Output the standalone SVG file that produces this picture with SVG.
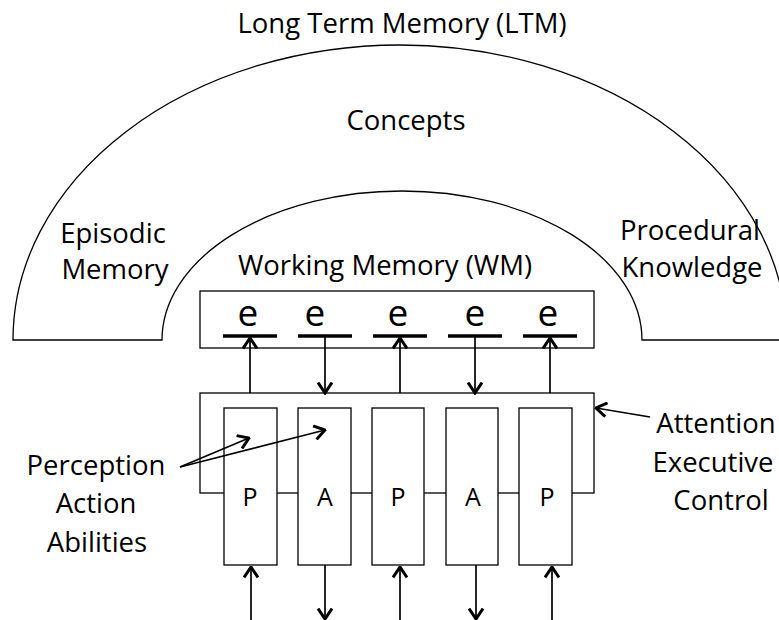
<svg xmlns="http://www.w3.org/2000/svg" width="779" height="620" viewBox="0 0 779 620">
<style>
text{font-family:"Open Sans","Liberation Sans",sans-serif;fill:#000}
.lbl{font-size:27.5px;text-anchor:middle}
.e{font-size:37px;text-anchor:middle}
.pa{font-size:25px;text-anchor:middle}
.shape{fill:#fff;stroke:#000;stroke-width:1.3}
.bar{stroke:#000;stroke-width:3.5}
.con{stroke:#000;stroke-width:1.7;fill:none}
</style>
<defs>
<marker id="ah" viewBox="0 0 13 16" refX="11.5" refY="8" markerWidth="13" markerHeight="16" markerUnits="userSpaceOnUse" orient="auto">
<path d="M1,1 L11.5,8 L1,15" fill="none" stroke="#000" stroke-width="3"/>
</marker>
</defs>
<rect width="779" height="620" fill="#fff"/>
<g id="ltm">
<path class="shape" d="M13,340 A387,295 0 0 1 787,340 L642,340 A240,149 0 0 0 162,340 Z"/>
<text class="lbl" x="402" y="33">Long Term Memory (LTM)</text>
<text class="lbl" x="406" y="130">Concepts</text>
</g>
<g id="episodic">
<text class="lbl" x="113" y="243">Episodic</text>
<text class="lbl" x="115" y="279">Memory</text>
</g>
<g id="procedural">
<text class="lbl" x="690" y="240">Procedural</text>
<text class="lbl" x="692" y="277">Knowledge</text>
</g>
<g id="wm">
<text class="lbl" x="385" y="275">Working Memory (WM)</text>
<rect class="shape" x="200" y="291" width="394" height="57"/>
</g>
<g id="elements">
<text class="e" x="248" y="326">e</text>
<text class="e" x="315" y="326">e</text>
<text class="e" x="398" y="326">e</text>
<text class="e" x="475" y="326">e</text>
<text class="e" x="548" y="326">e</text>
<line class="bar" x1="223" y1="336" x2="277" y2="336"/>
<line class="bar" x1="298" y1="336" x2="352" y2="336"/>
<line class="bar" x1="373" y1="336" x2="427" y2="336"/>
<line class="bar" x1="448" y1="336" x2="502" y2="336"/>
<line class="bar" x1="523" y1="336" x2="577" y2="336"/>
</g>
<g id="attention-box">
<rect x="200" y="393" width="394" height="100" fill="none" stroke="#000" stroke-width="1.3"/>
</g>
<g id="columns">
<rect class="shape" x="224" y="408" width="53" height="157"/>
<rect class="shape" x="298" y="408" width="53" height="157"/>
<rect class="shape" x="372" y="408" width="52" height="157"/>
<rect class="shape" x="446" y="408" width="52" height="157"/>
<rect class="shape" x="519" y="408" width="53" height="157"/>
<text class="pa" x="250" y="506">P</text>
<text class="pa" x="325" y="506">A</text>
<text class="pa" x="398" y="506">P</text>
<text class="pa" x="473" y="506">A</text>
<text class="pa" x="547" y="506">P</text>
</g>
<g id="perception-label">
<text class="lbl" x="96" y="475">Perception</text>
<text class="lbl" x="96" y="513">Action</text>
<text class="lbl" x="97" y="552">Abilities</text>
</g>
<g id="attention-label">
<text class="lbl" x="716" y="433">Attention</text>
<text class="lbl" x="713" y="472">Executive</text>
<text class="lbl" x="721" y="510">Control</text>
</g>
<g id="connectors">
<line class="con" x1="250" y1="393" x2="250" y2="338" marker-end="url(#ah)"/>
<line class="con" x1="325" y1="337" x2="325" y2="393" marker-end="url(#ah)"/>
<line class="con" x1="400" y1="393" x2="400" y2="338" marker-end="url(#ah)"/>
<line class="con" x1="475" y1="337" x2="475" y2="393" marker-end="url(#ah)"/>
<line class="con" x1="550" y1="393" x2="550" y2="338" marker-end="url(#ah)"/>
<line class="con" x1="251" y1="620" x2="251" y2="567" marker-end="url(#ah)"/>
<line class="con" x1="325" y1="565" x2="325" y2="619" marker-end="url(#ah)"/>
<line class="con" x1="400" y1="620" x2="400" y2="567" marker-end="url(#ah)"/>
<line class="con" x1="476" y1="565" x2="476" y2="619" marker-end="url(#ah)"/>
<line class="con" x1="552" y1="620" x2="552" y2="567" marker-end="url(#ah)"/>
<line class="con" x1="180" y1="467" x2="249" y2="438" marker-end="url(#ah)"/>
<line class="con" x1="180" y1="467" x2="325" y2="430" marker-end="url(#ah)"/>
<line class="con" x1="650" y1="417" x2="596" y2="408" marker-end="url(#ah)"/>
</g>
</svg>
